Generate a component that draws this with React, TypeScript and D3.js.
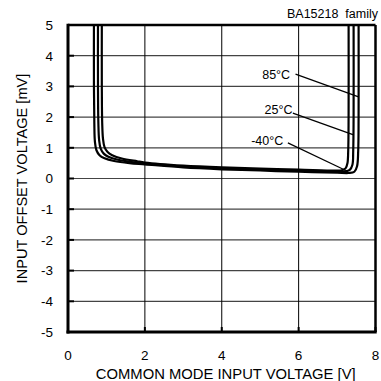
import React, { useRef, useEffect } from "react";
import * as d3 from "d3";

// tick values
const xTicks = [0, 2, 4, 6, 8];
const yTicks = [5, 4, 3, 2, 1, 0, -1, -2, -3, -4, -5];

// offset voltage [mV] vs common mode input voltage [V]
const curve85: [number, number][] = [
  [0.675, 5.3], [0.675, 3], [0.685, 1.8], [0.7, 1.2], [0.74, 0.92], [0.82, 0.76],
  [0.95, 0.66], [1.2, 0.57], [1.6, 0.5], [2, 0.46], [3, 0.36], [4, 0.3], [5, 0.26],
  [6, 0.22], [7, 0.19], [7.3, 0.18], [7.45, 0.22], [7.52, 0.4], [7.55, 0.9],
  [7.56, 2], [7.56, 5.3],
];
const curve25: [number, number][] = [
  [0.78, 5.3], [0.78, 3], [0.79, 1.8], [0.81, 1.25], [0.85, 0.97], [0.93, 0.81],
  [1.05, 0.71], [1.3, 0.61], [1.7, 0.53], [2, 0.49], [3, 0.39], [4, 0.33], [5, 0.29],
  [6, 0.26], [7, 0.23], [7.2, 0.23], [7.33, 0.28], [7.4, 0.45], [7.42, 0.9],
  [7.43, 2], [7.43, 5.3],
];
const curveM40: [number, number][] = [
  [0.88, 5.3], [0.88, 3], [0.89, 1.8], [0.91, 1.3], [0.95, 1.02], [1.03, 0.86],
  [1.15, 0.76], [1.4, 0.65], [1.8, 0.56], [2, 0.52], [3, 0.42], [4, 0.36], [5, 0.32],
  [6, 0.29], [7, 0.26], [7.12, 0.27], [7.22, 0.33], [7.27, 0.5], [7.29, 0.9],
  [7.3, 2], [7.3, 5.3],
];

// temperature labels: text anchor point and leader line (data units)
const labels = [
  { text: "85°C", at: [5.78, 3.24], from: [5.92, 3.4], to: [7.56, 2.66] },
  { text: "25°C", at: [5.84, 2.1], from: [5.85, 2.13], to: [7.43, 1.42] },
  { text: "-40°C", at: [5.6, 1.1], from: [5.72, 1.16], to: [7.23, 0.26] },
];

const W = 381;
const H = 381;
const margin = { top: 25, right: 5.5, bottom: 49, left: 68 };
const font = "'Liberation Sans', Arial, sans-serif";

const Chart: React.FC = () => {
  const svgRef = useRef<SVGSVGElement>(null);

  useEffect(() => {
    const svg = d3.select(svgRef.current);
    svg.selectAll("*").remove();

    const x = d3.scaleLinear().domain([0, 8]).range([margin.left, W - margin.right]);
    const y = d3.scaleLinear().domain([-5, 5]).range([H - margin.bottom, margin.top]);

    svg
      .append("defs")
      .append("clipPath")
      .attr("id", "plot-clip")
      .append("rect")
      .attr("x", x(0))
      .attr("y", y(5))
      .attr("width", x(8) - x(0))
      .attr("height", y(-5) - y(5));

    // grid
    svg
      .append("g")
      .selectAll("line")
      .data(yTicks.slice(1, -1))
      .join("line")
      .attr("x1", x(0))
      .attr("x2", x(8))
      .attr("y1", (d) => y(d))
      .attr("y2", (d) => y(d))
      .attr("stroke", "#444")
      .attr("stroke-width", 1.2);

    svg
      .append("g")
      .selectAll("line")
      .data(xTicks.slice(1, -1))
      .join("line")
      .attr("x1", (d) => x(d))
      .attr("x2", (d) => x(d))
      .attr("y1", y(5))
      .attr("y2", y(-5))
      .attr("stroke", "#000")
      .attr("stroke-width", 1);

    // inner ticks
    svg
      .append("g")
      .selectAll("line")
      .data(yTicks)
      .join("line")
      .attr("x1", x(0))
      .attr("x2", x(0) + 6)
      .attr("y1", (d) => y(d))
      .attr("y2", (d) => y(d))
      .attr("stroke", "#000")
      .attr("stroke-width", 2);

    svg
      .append("g")
      .selectAll("line")
      .data(xTicks)
      .join("line")
      .attr("x1", (d) => x(d))
      .attr("x2", (d) => x(d))
      .attr("y1", y(-5))
      .attr("y2", y(-5) - 5)
      .attr("stroke", "#000")
      .attr("stroke-width", 2);

    // curves
    const line = d3
      .line<[number, number]>()
      .x((d) => x(d[0]))
      .y((d) => y(d[1]))
      .curve(d3.curveCatmullRom.alpha(0.5));

    svg
      .append("g")
      .attr("clip-path", "url(#plot-clip)")
      .attr("fill", "none")
      .attr("stroke", "#000")
      .attr("stroke-width", 2.2)
      .selectAll("path")
      .data([curve85, curve25, curveM40])
      .join("path")
      .attr("d", (d) => line(d));

    // frame
    const frame = svg.append("g").attr("stroke", "#000").attr("fill", "none");
    frame.append("line").attr("x1", x(0)).attr("x2", x(8)).attr("y1", y(5)).attr("y2", y(5)).attr("stroke-width", 2.5);
    frame.append("line").attr("x1", x(8)).attr("x2", x(8)).attr("y1", y(5)).attr("y2", y(-5)).attr("stroke-width", 2.5);
    frame.append("line").attr("x1", x(0) - 1.5).attr("x2", x(8) + 1.2).attr("y1", y(-5)).attr("y2", y(-5)).attr("stroke-width", 3);
    frame.append("line").attr("x1", x(0)).attr("x2", x(0)).attr("y1", y(5) - 1.2).attr("y2", y(-5) + 1.5).attr("stroke-width", 3);

    // labels + leaders
    const lab = svg.append("g");
    lab
      .selectAll("line")
      .data(labels)
      .join("line")
      .attr("x1", (d) => x(d.from[0]))
      .attr("y1", (d) => y(d.from[1]))
      .attr("x2", (d) => x(d.to[0]))
      .attr("y2", (d) => y(d.to[1]))
      .attr("stroke", "#000")
      .attr("stroke-width", 1.2);
    lab
      .selectAll("text")
      .data(labels)
      .join("text")
      .attr("x", (d) => x(d.at[0]))
      .attr("y", (d) => y(d.at[1]))
      .attr("text-anchor", "end")
      .attr("font-family", font)
      .attr("font-size", 12.5)
      .text((d) => d.text);

    // tick labels
    svg
      .append("g")
      .selectAll("text")
      .data(yTicks)
      .join("text")
      .attr("x", x(0) - 15)
      .attr("y", (d) => y(d) + 4.8)
      .attr("text-anchor", "end")
      .attr("font-family", font)
      .attr("font-size", 13.5)
      .text((d) => String(d));

    svg
      .append("g")
      .selectAll("text")
      .data(xTicks)
      .join("text")
      .attr("x", (d) => x(d))
      .attr("y", y(-5) + 28)
      .attr("text-anchor", "middle")
      .attr("font-family", font)
      .attr("font-size", 13.5)
      .text((d) => String(d));

    // axis titles
    svg
      .append("text")
      .attr("x", (x(0) + x(8)) / 2 + 4)
      .attr("y", 379)
      .attr("text-anchor", "middle")
      .attr("font-family", font)
      .attr("font-size", 14.8)
      .text("COMMON MODE INPUT VOLTAGE [V]");

    svg
      .append("text")
      .attr("transform", `translate(27,${(y(5) + y(-5)) / 2}) rotate(-90)`)
      .attr("text-anchor", "middle")
      .attr("font-family", font)
      .attr("font-size", 14.6)
      .text("INPUT OFFSET VOLTAGE [mV]");

    svg
      .append("text")
      .attr("x", 378)
      .attr("y", 18)
      .attr("text-anchor", "end")
      .attr("font-family", font)
      .attr("font-size", 12.5)
      .attr("xml:space", "preserve")
      .style("white-space", "pre")
      .text("BA15218  family");
  }, []);

  return (
    <svg
      ref={svgRef}
      width={W}
      height={H}
      style={{ position: "absolute", left: 0, top: 0, background: "#fff" }}
    />
  );
};

export default function App() {
  return <Chart />;
}
